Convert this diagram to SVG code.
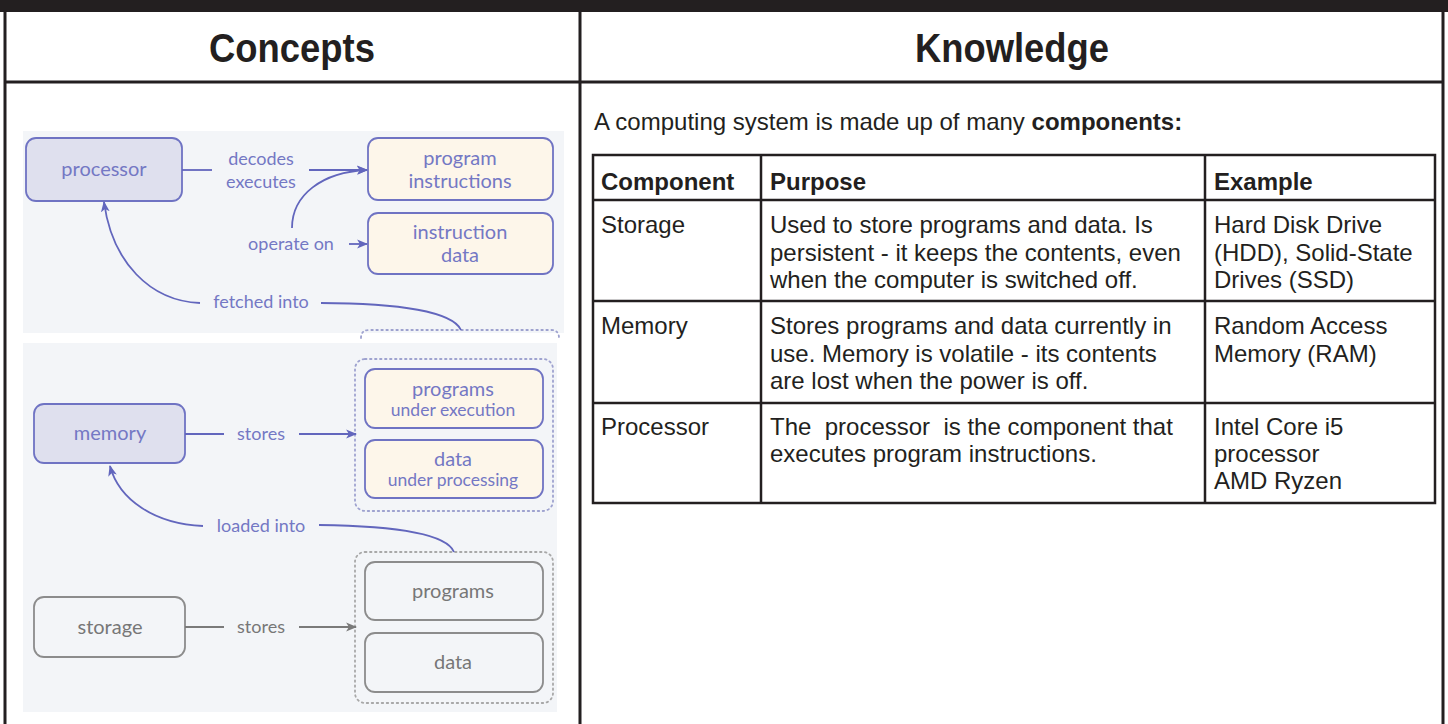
<svg xmlns="http://www.w3.org/2000/svg" width="1448" height="724" viewBox="0 0 1448 724">
<defs>
<style>
.frame{stroke:#231f20;stroke-width:3;fill:none}
.hdr{font-family:"Liberation Sans",Arial,sans-serif;font-weight:bold;font-size:41px;fill:#231f20;text-anchor:middle}
.tx{font-family:"Liberation Sans",Arial,sans-serif;font-size:24px;fill:#231f20}
.tb{font-family:"Liberation Sans",Arial,sans-serif;font-size:24px;font-weight:bold;fill:#231f20}
.grid{stroke:#231f20;stroke-width:2.5;fill:none}
.panel{fill:#f3f5f8}
.pbox{fill:#dfe0ee;stroke:#6f73c3;stroke-width:1.8}
.cbox{fill:#fdf6ea;stroke:#6f73c3;stroke-width:1.8}
.gbox{fill:none;stroke:#8c8c8c;stroke-width:1.8}
.dot{fill:none;stroke:#9ea2cf;stroke-width:1.8;stroke-dasharray:1.5 3.5;stroke-linecap:round}
.gdot{fill:none;stroke:#a8a8a8;stroke-width:1.8;stroke-dasharray:1.5 3.5;stroke-linecap:round}
.pl{fill:none;stroke:#6266bd;stroke-width:1.8}
.gl{fill:none;stroke:#7a7a7a;stroke-width:1.8}
.pt{font-family:Lato,"Open Sans",sans-serif;font-size:20px;fill:#7478c4;text-anchor:middle}
.pu{font-family:Lato,"Open Sans",sans-serif;font-size:17.5px;fill:#7478c4;text-anchor:middle}
.ps{font-family:Lato,"Open Sans",sans-serif;font-size:18px;fill:#7478c4;text-anchor:middle}
.gt{font-family:Lato,"Open Sans",sans-serif;font-size:20px;fill:#777;text-anchor:middle}
.gs{font-family:Lato,"Open Sans",sans-serif;font-size:18px;fill:#777;text-anchor:middle}
</style>
<marker id="ap" viewBox="0 0 10 10" refX="9" refY="5" markerWidth="11" markerHeight="11" markerUnits="userSpaceOnUse" orient="auto">
<path d="M0,1 L10,5 L0,9 L2.5,5 Z" fill="#6266bd"/>
</marker>
<marker id="ag" viewBox="0 0 10 10" refX="9" refY="5" markerWidth="11" markerHeight="11" markerUnits="userSpaceOnUse" orient="auto">
<path d="M0,1 L10,5 L0,9 L2.5,5 Z" fill="#7a7a7a"/>
</marker>
</defs>
<rect x="0" y="0" width="1448" height="724" fill="#ffffff"/>
<g id="frame">
<rect x="0" y="0" width="1448" height="12" fill="#231f20"/>
<line class="frame" x1="5" y1="10" x2="5" y2="724"/>
<line class="frame" x1="1443" y1="10" x2="1443" y2="724"/>
<line class="frame" x1="580" y1="10" x2="580" y2="724"/>
<line class="frame" x1="4" y1="82" x2="1444" y2="82"/>
<text class="hdr" x="292" y="62" textLength="166" lengthAdjust="spacingAndGlyphs">Concepts</text>
<text class="hdr" x="1012" y="62" textLength="194" lengthAdjust="spacingAndGlyphs">Knowledge</text>
</g>
<g id="panels">
<rect class="panel" x="23" y="131" width="541" height="202"/>
<rect class="panel" x="23" y="343" width="534" height="369"/>
</g>
<g id="processor"><rect class="pbox" x="26" y="138" width="156" height="63" rx="10"/><text class="pt" x="104" y="176">processor</text></g>
<g id="program-instructions"><rect class="cbox" x="368" y="138" width="185" height="62" rx="10"/><text class="pt" x="460" y="165">program</text><text class="pt" x="460" y="188">instructions</text></g>
<g id="instruction-data"><rect class="cbox" x="368" y="213" width="185" height="61" rx="10"/><text class="pt" x="460" y="239">instruction</text><text class="pt" x="460" y="262">data</text></g>
<g id="memory-contents-top"><path class="dot" d="M361,338 Q361,330 369,330 L551,330 Q559,330 559,338"/></g>
<g id="memory"><rect class="pbox" x="34" y="404" width="151" height="59" rx="10"/><text class="pt" x="110" y="440">memory</text></g>
<g id="memory-contents"><rect class="dot" x="355" y="359" width="198" height="152" rx="10"/></g>
<g id="programs-under-execution"><rect class="cbox" x="365" y="369" width="178" height="59" rx="10"/><text class="pt" x="453" y="396">programs</text><text class="pu" x="453" y="416">under execution</text></g>
<g id="data-under-processing"><rect class="cbox" x="365" y="440" width="178" height="58" rx="10"/><text class="pt" x="453" y="466">data</text><text class="pu" x="453" y="486">under processing</text></g>
<g id="storage"><rect class="gbox" x="34" y="597" width="151" height="60" rx="10"/><text class="gt" x="110" y="634">storage</text></g>
<g id="storage-contents"><rect class="gdot" x="355" y="552" width="198" height="151" rx="10"/></g>
<g id="programs"><rect class="gbox" x="365" y="562" width="178" height="58" rx="10"/><text class="gt" x="453" y="598">programs</text></g>
<g id="data"><rect class="gbox" x="365" y="633" width="178" height="59" rx="10"/><text class="gt" x="453" y="669">data</text></g>
<g id="connectors">
<line class="pl" x1="182" y1="170" x2="212" y2="170"/>
<text class="ps" x="261" y="165">decodes</text>
<text class="ps" x="261" y="188">executes</text>
<path class="pl" d="M309,170 L367,170" marker-end="url(#ap)"/>
<path class="pl" d="M292,228 C292,195 322,172 367,170" marker-end="url(#ap)"/>
<text class="ps" x="291" y="250">operate on</text>
<path class="pl" d="M349,244 L367,244" marker-end="url(#ap)"/>
<path class="pl" d="M200,303 C150,301 112,262 104,202" marker-end="url(#ap)"/>
<text class="ps" x="261" y="308">fetched into</text>
<path class="pl" d="M321,303 C400,303 453,312 461,330"/>
<line class="pl" x1="185" y1="434" x2="224" y2="434"/>
<text class="ps" x="261" y="440">stores</text>
<path class="pl" d="M299,434 L356,434" marker-end="url(#ap)"/>
<path class="pl" d="M203,526 C155,524 119,500 110,466" marker-end="url(#ap)"/>
<text class="ps" x="261" y="532">loaded into</text>
<path class="pl" d="M319,525 C400,526 447,535 454,552"/>
<line class="gl" x1="185" y1="627" x2="224" y2="627"/>
<text class="gs" x="261" y="633">stores</text>
<path class="gl" d="M299,627 L356,627" marker-end="url(#ag)"/>
</g>
<g id="knowledge">
<text class="tx" x="594" y="130">A computing system is made up of many <tspan font-weight="bold">components:</tspan></text>
<rect class="grid" x="593" y="155" width="842" height="348"/>
<line class="grid" x1="761" y1="155" x2="761" y2="503"/>
<line class="grid" x1="1205" y1="155" x2="1205" y2="503"/>
<line class="grid" x1="593" y1="200" x2="1435" y2="200"/>
<line class="grid" x1="593" y1="301" x2="1435" y2="301"/>
<line class="grid" x1="593" y1="403" x2="1435" y2="403"/>
<text class="tb" x="601" y="190">Component</text>
<text class="tb" x="770" y="190">Purpose</text>
<text class="tb" x="1214" y="190">Example</text>
<text class="tx" x="601" y="233">Storage</text>
<text class="tx" x="770" y="233">Used to store programs and data. Is</text>
<text class="tx" x="770" y="261">persistent - it keeps the contents, even</text>
<text class="tx" x="770" y="288">when the computer is switched off.</text>
<text class="tx" x="1214" y="233">Hard Disk Drive</text>
<text class="tx" x="1214" y="261">(HDD), Solid-State</text>
<text class="tx" x="1214" y="288">Drives (SSD)</text>
<text class="tx" x="601" y="334">Memory</text>
<text class="tx" x="770" y="334">Stores programs and data currently in</text>
<text class="tx" x="770" y="362">use. Memory is volatile - its contents</text>
<text class="tx" x="770" y="389">are lost when the power is off.</text>
<text class="tx" x="1214" y="334">Random Access</text>
<text class="tx" x="1214" y="362">Memory (RAM)</text>
<text class="tx" x="601" y="435">Processor</text>
<text class="tx" x="770" y="435" xml:space="preserve">The  processor  is the component that</text>
<text class="tx" x="770" y="462">executes program instructions.</text>
<text class="tx" x="1214" y="435">Intel Core i5</text>
<text class="tx" x="1214" y="462">processor</text>
<text class="tx" x="1214" y="489">AMD Ryzen</text>
</g>
</svg>
